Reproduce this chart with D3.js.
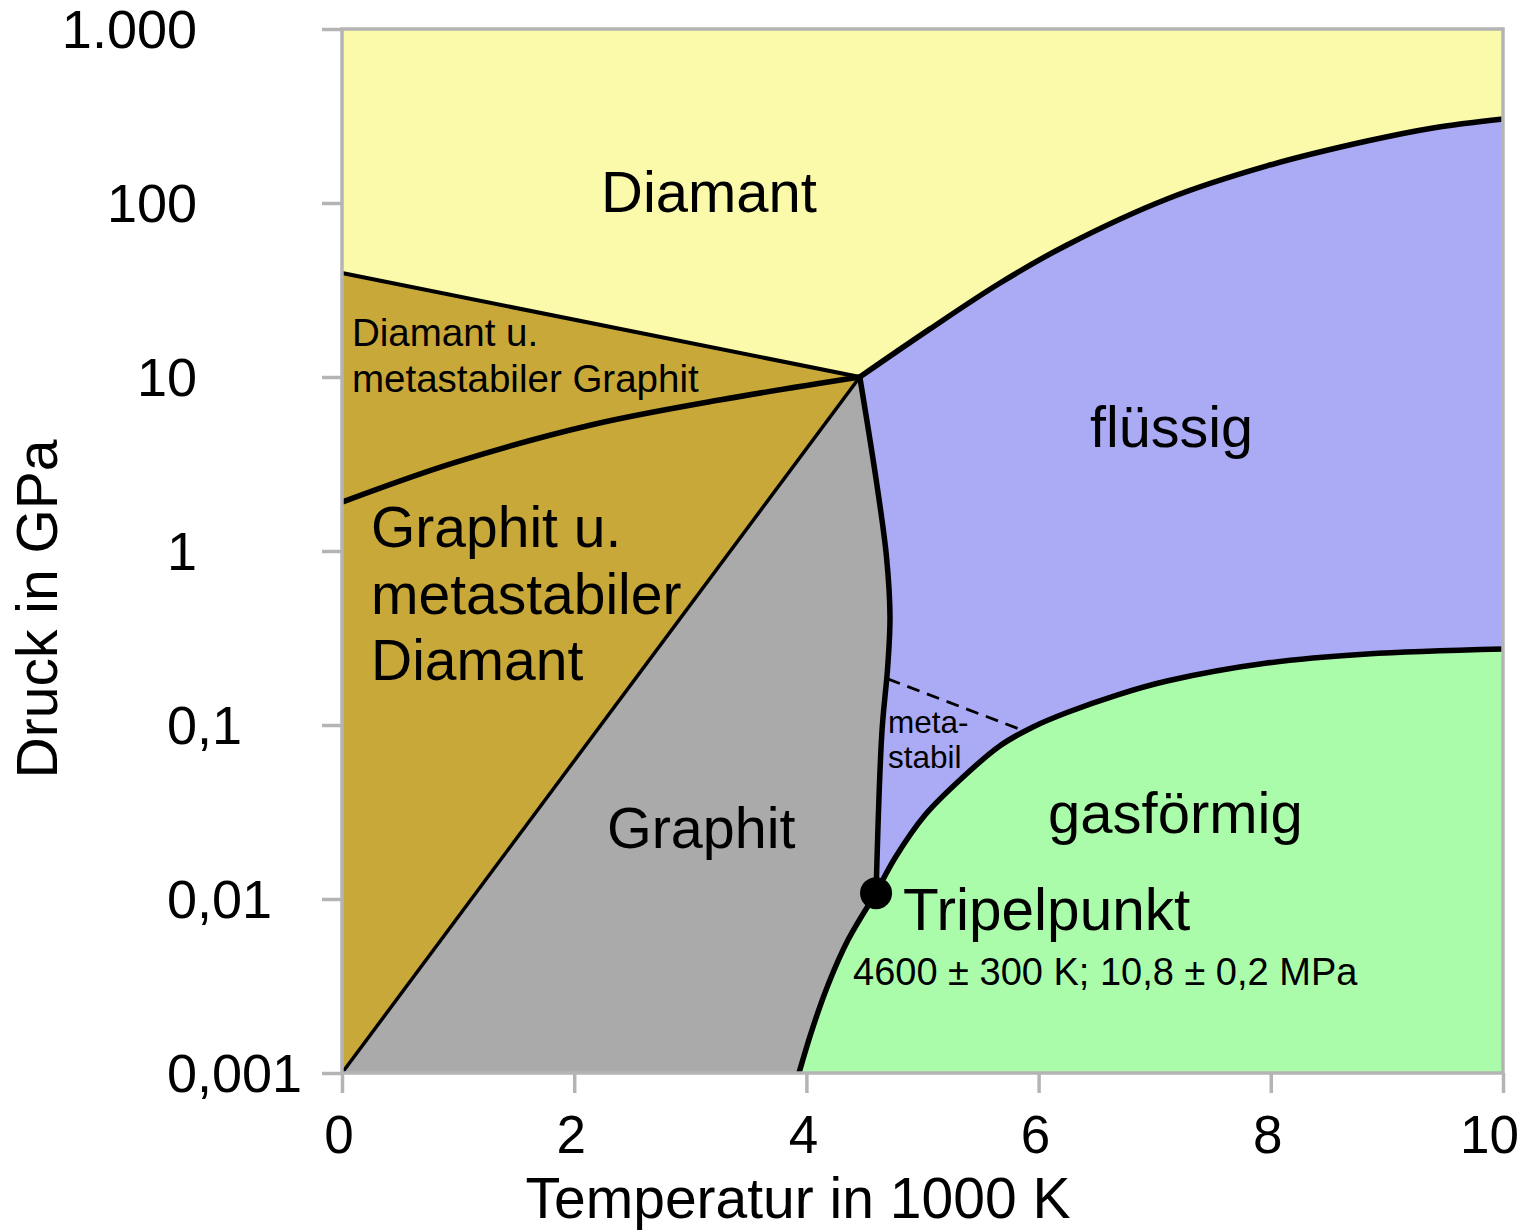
<!DOCTYPE html>
<html>
<head>
<meta charset="utf-8">
<script src="https://cdn.jsdelivr.net/npm/d3@7"></script>
<style>
  html, body { margin: 0; padding: 0; background: #ffffff; }
  svg { display: block; font-family: "Liberation Sans", Arial, Helvetica, sans-serif; }
</style>
</head>
<body>
<svg id="chart" width="1523" height="1232"></svg>
<script>
// Phase diagram of carbon: temperature in 1000 K, pressure in GPa (log scale)

const xTicks = [0, 2, 4, 6, 8, 10];
const xTickLabels = ["0", "2", "4", "6", "8", "10"];
const yTicks = [0.001, 0.01, 0.1, 1, 10, 100, 1000];
const yTickLabels = ["0,001", "0,01", "0,1", "1", "10", "100", "1.000"];

// graphite / diamond / liquid meeting point
const upperTriple = [4.46, 10];
// graphite / liquid / gas triple point: 4600 K, 10,8 MPa
const triplePoint = [4.6, 0.0108];

// [T, P] pairs along each phase boundary
const diamondMetaGraphite = [[0, 39.6], upperTriple];
const graphiteDiamondEquilibrium = [[0, 1.91], [0.956, 3.2], [2.145, 5.3], [3.264, 7.4], upperTriple];
const graphiteMetaDiamond = [[0, 0.001], upperTriple];
const meltingGraphite = [upperTriple, [4.605, 2.46], [4.69, 0.925], [4.72, 0.418], [4.70, 0.215], [4.65, 0.090], triplePoint];
const meltingDiamond = [upperTriple, [5.065, 18.9], [5.668, 34.7], [6.245, 57.4], [7.106, 105.5], [7.967, 163.4], [8.829, 227], [9.397, 270], [10, 304]];
const sublimation = [[3.936, 0.001], [4.048, 0.001766], [4.186, 0.003206], [4.358, 0.005807], triplePoint];
const boiling = [triplePoint, [4.763, 0.0172], [5.022, 0.0304], [5.349, 0.0502], [5.668, 0.0760], [5.952, 0.0975], [6.245, 0.118], [6.675, 0.1487], [7.106, 0.179], [7.967, 0.227], [8.829, 0.256], [10, 0.2735]];
const metastableLimit = [[4.70, 0.184], [5.857, 0.0935]];

const svg = d3.select("#chart");

const x = d3.scaleLinear().domain([0, 10]).range([342, 1503]);
const y = d3.scaleLog().domain([0.001, 1000]).range([1073, 29]);

const smooth = d3.line().x(d => x(d[0])).y(d => y(d[1])).curve(d3.curveCatmullRom.alpha(0.5));
const straight = d3.line().x(d => x(d[0])).y(d => y(d[1]));
const cont = (gen, pts) => gen(pts).replace(/^M/, "L");
const rev = a => a.slice().reverse();
const pt = d => `L${x(d[0])},${y(d[1])}`;

const colors = {
  diamond: "#fafaaa",
  mixed: "#c8a838",
  graphite: "#aaaaaa",
  liquid: "#aaaaf5",
  gas: "#aafcaa",
  axis: "#b4b4b4"
};

// ---- phase regions ----
const regions = svg.append("g");

regions.append("rect")
  .attr("x", x(0)).attr("y", y(1000))
  .attr("width", x(10) - x(0)).attr("height", y(0.001) - y(1000))
  .attr("fill", colors.diamond);

regions.append("path")
  .attr("d", straight([[0, 0.001], [0, 39.6], upperTriple]) + "Z")
  .attr("fill", colors.mixed);

regions.append("path")
  .attr("d", straight(graphiteMetaDiamond) + cont(smooth, meltingGraphite) + cont(smooth, rev(sublimation)) + "Z")
  .attr("fill", colors.graphite);

regions.append("path")
  .attr("d", smooth(meltingDiamond) + pt(boiling[boiling.length - 1]) + cont(smooth, rev(boiling)) + cont(smooth, rev(meltingGraphite)) + "Z")
  .attr("fill", colors.liquid);

regions.append("path")
  .attr("d", smooth(boiling) + pt([10, 0.001]) + pt(sublimation[0]) + cont(smooth, sublimation) + "Z")
  .attr("fill", colors.gas);

// ---- phase boundaries ----
const lines = svg.append("g").attr("fill", "none").attr("stroke", "#000").attr("stroke-linejoin", "round");

lines.append("path").attr("d", straight(diamondMetaGraphite)).attr("stroke-width", 4);
lines.append("path").attr("d", smooth(graphiteDiamondEquilibrium)).attr("stroke-width", 5.5);
lines.append("path").attr("d", straight(graphiteMetaDiamond)).attr("stroke-width", 3.5);
lines.append("path").attr("d", smooth(meltingGraphite)).attr("stroke-width", 5.5);
lines.append("path").attr("d", smooth(meltingDiamond)).attr("stroke-width", 5.5);
lines.append("path").attr("d", smooth(sublimation)).attr("stroke-width", 5.5);
lines.append("path").attr("d", smooth(boiling)).attr("stroke-width", 5.5);
lines.append("path").attr("d", straight(metastableLimit)).attr("stroke-width", 2.8).attr("stroke-dasharray", "13,8");

// ---- axes ----
const axisG = svg.append("g");

axisG.append("g")
  .attr("transform", `translate(${x(0)},0)`)
  .call(d3.axisLeft(y).tickValues(yTicks).tickFormat("").tickSize(20).tickSizeOuter(0))
  .call(g => g.select(".domain").remove())
  .call(g => g.selectAll(".tick line").attr("stroke", colors.axis).attr("stroke-width", 3.5));

axisG.append("g")
  .attr("transform", `translate(0,${y(0.001)})`)
  .call(d3.axisBottom(x).tickValues(xTicks).tickFormat("").tickSize(20).tickSizeOuter(0))
  .call(g => g.select(".domain").remove())
  .call(g => g.selectAll(".tick line").attr("stroke", colors.axis).attr("stroke-width", 3.5));

axisG.append("rect")
  .attr("x", x(0)).attr("y", y(1000))
  .attr("width", x(10) - x(0)).attr("height", y(0.001) - y(1000))
  .attr("fill", "none").attr("stroke", colors.axis).attr("stroke-width", 3.5);

// y tick labels, aligned on the decimal separator
const yLab = svg.append("g").attr("font-size", 54).attr("fill", "#000");
yTicks.forEach((v, i) => {
  const label = yTickLabels[i];
  const k = label.indexOf(",");
  const intPart = k < 0 ? label : label.slice(0, k);
  const fracPart = k < 0 ? "" : label.slice(k);
  yLab.append("text").attr("x", 197).attr("y", y(v)).attr("dy", "0.36em")
    .attr("text-anchor", "end").text(intPart);
  if (fracPart) {
    yLab.append("text").attr("x", 197).attr("y", y(v)).attr("dy", "0.36em")
      .attr("text-anchor", "start").text(fracPart);
  }
});

// x tick labels (the last one kept inside the page)
const xLab = svg.append("g").attr("font-size", 53).attr("fill", "#000");
xTicks.forEach((v, i) => {
  const last = i === xTicks.length - 1;
  xLab.append("text")
    .attr("x", last ? 1519 : x(v) - 3)
    .attr("y", 1153)
    .attr("text-anchor", last ? "end" : "middle")
    .text(xTickLabels[i]);
});

// axis titles
svg.append("text").attr("x", 798).attr("y", 1218).attr("text-anchor", "middle")
  .attr("font-size", 57).text("Temperatur in 1000 K");
svg.append("text").attr("transform", "translate(57,609) rotate(-90)").attr("text-anchor", "middle")
  .attr("font-size", 57).text("Druck in GPa");

// triple point marker
svg.append("circle").attr("cx", x(triplePoint[0])).attr("cy", y(triplePoint[1])).attr("r", 16).attr("fill", "#000");

// ---- region labels ----
const labels = svg.append("g").attr("fill", "#000");
function block(lines, x0, y0, size, lh) {
  lines.forEach((t, i) => {
    labels.append("text").attr("x", x0).attr("y", y0 + i * lh).attr("font-size", size).text(t);
  });
}
block(["Diamant"], 601, 212, 58, 0);
block(["Diamant u.", "metastabiler Graphit"], 352, 346, 38.5, 46);
block(["Graphit u.", "metastabiler", "Diamant"], 371, 547, 57, 66.5);
block(["Graphit"], 607, 848, 57.5, 0);
block(["flüssig"], 1090, 447, 57.5, 0);
block(["meta-", "stabil"], 888, 733, 31.5, 35);
block(["gasförmig"], 1048, 833, 58, 0);
block(["Tripelpunkt"], 903, 930, 58.5, 0);
block(["4600 ± 300 K; 10,8 ± 0,2 MPa"], 853, 985, 38, 0);
</script>
</body>
</html>
